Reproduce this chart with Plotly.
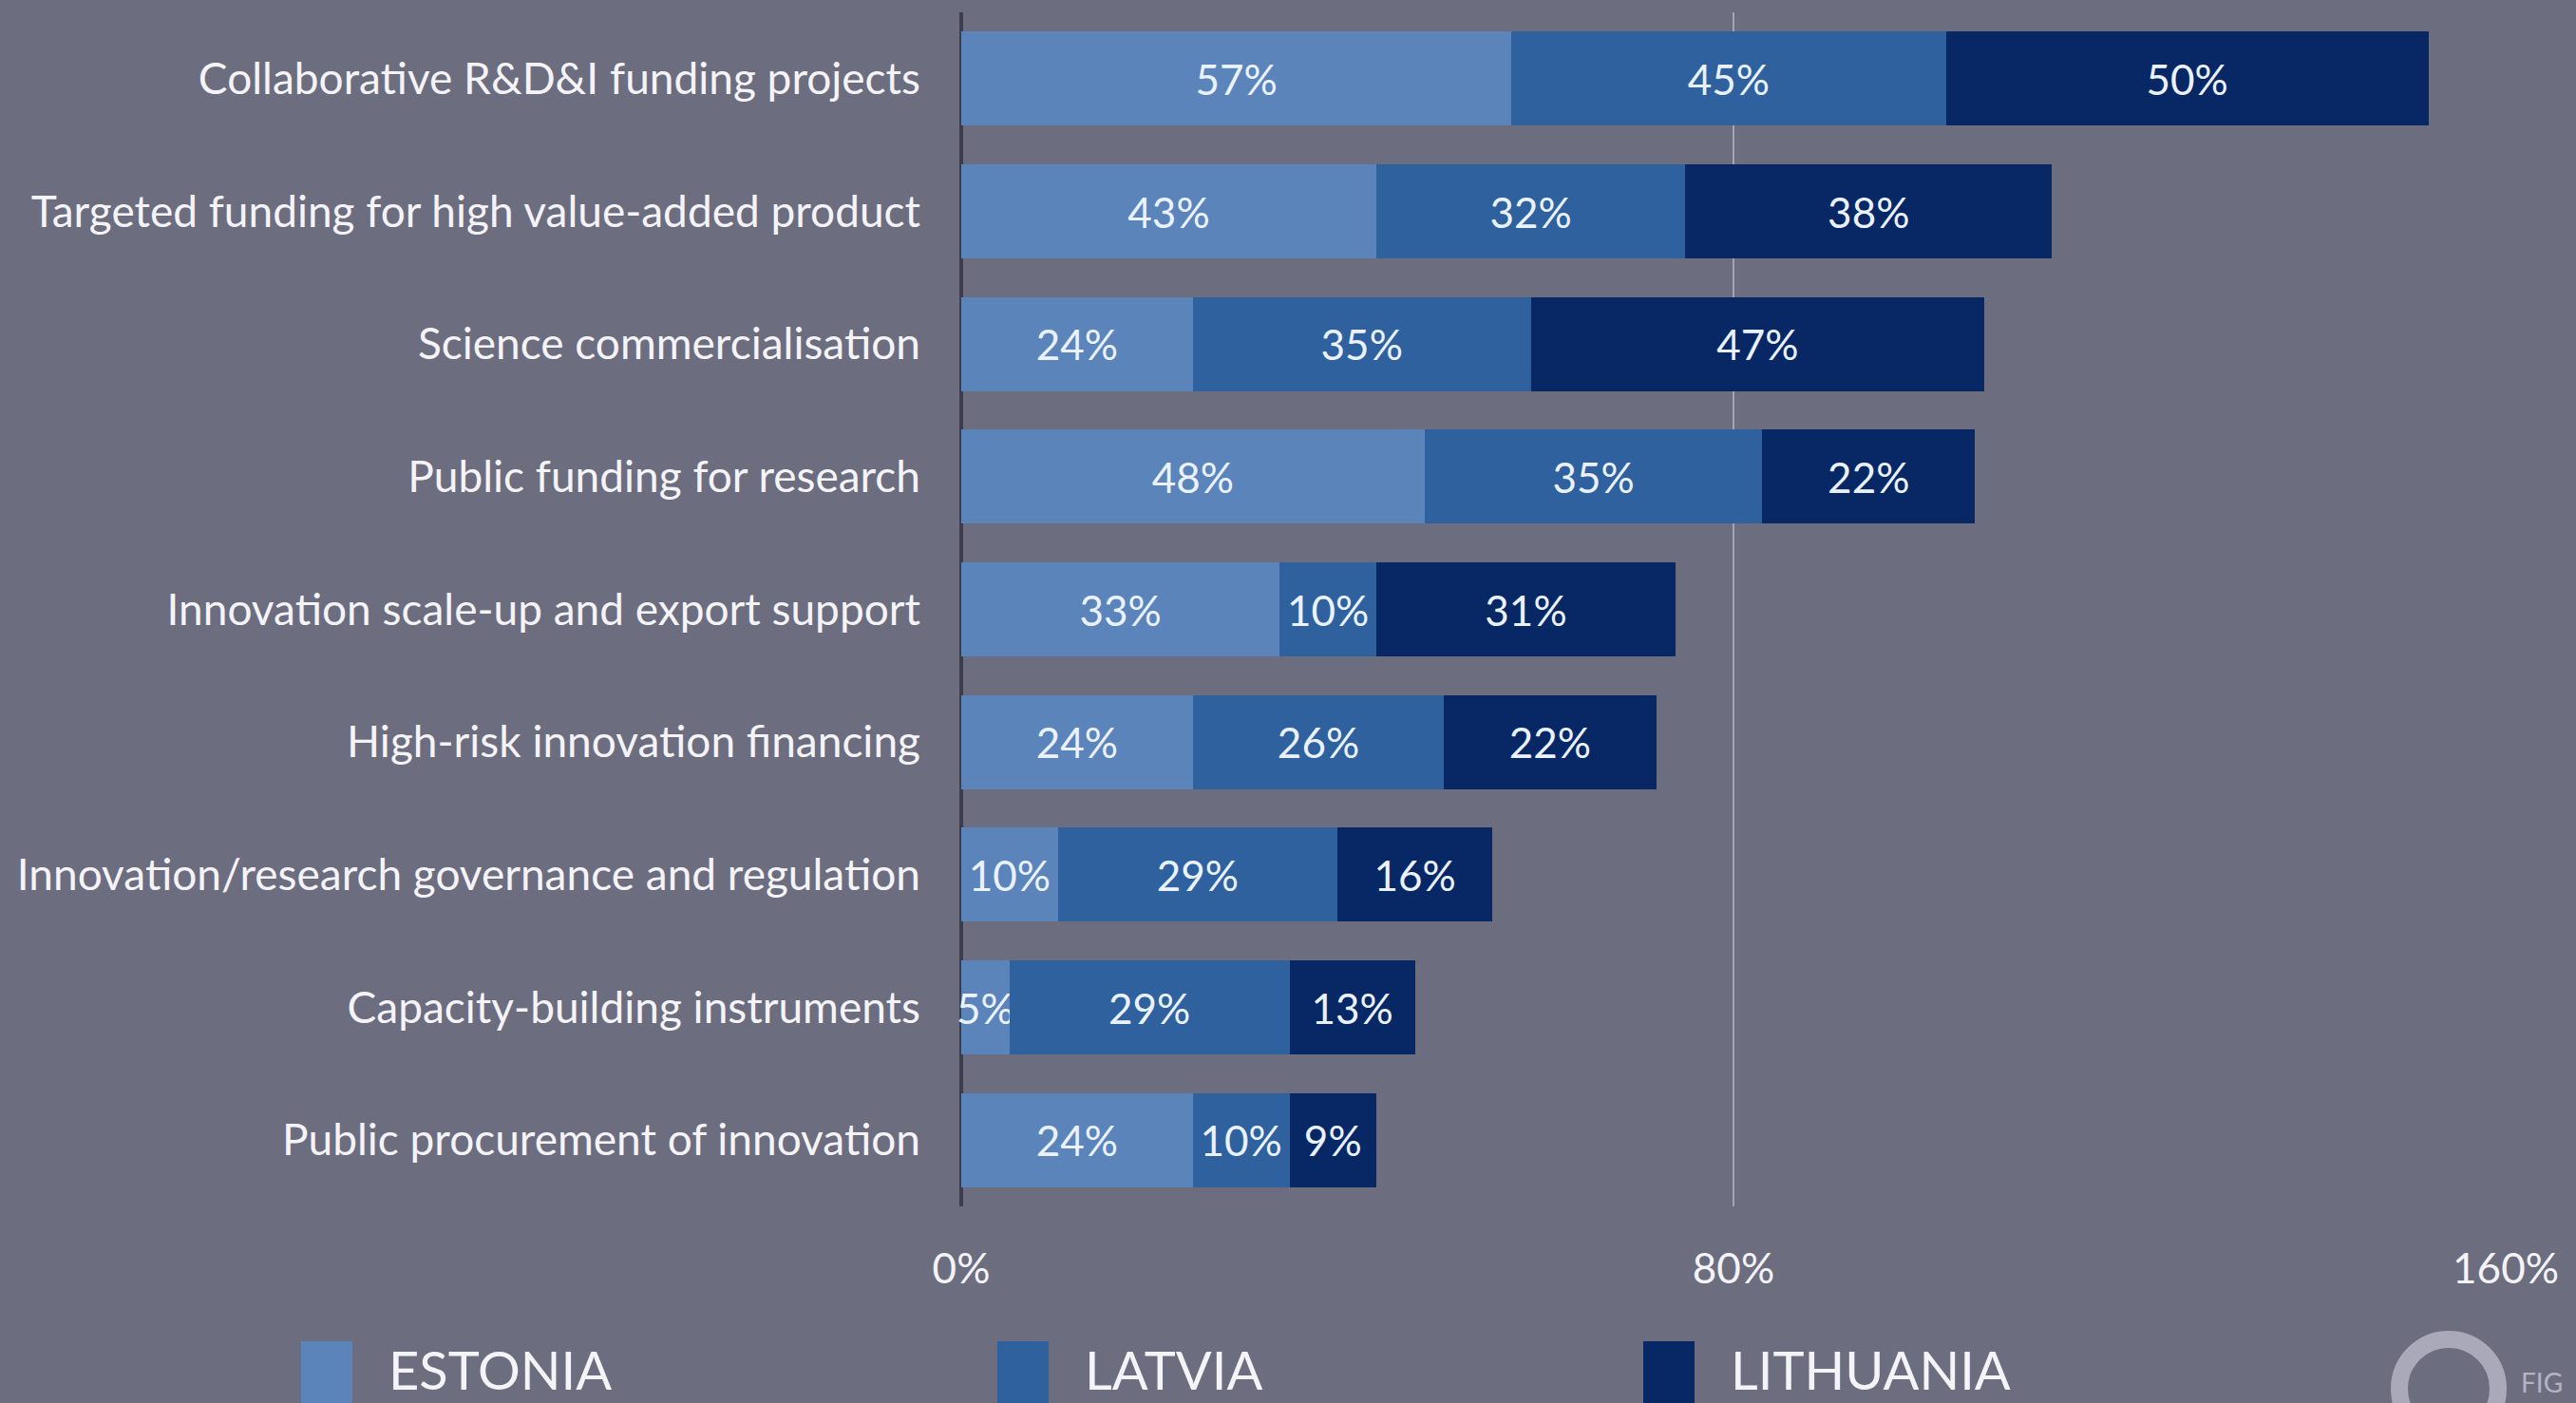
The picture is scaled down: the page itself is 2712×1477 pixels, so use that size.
import plotly.graph_objects as go

# Instruments (top to bottom) and the share reported by each country
categories = [
    "Collaborative R&D&I funding projects",
    "Targeted funding for high value-added product",
    "Science commercialisation",
    "Public funding for research",
    "Innovation scale-up and export support",
    "High-risk innovation financing",
    "Innovation/research governance and regulation",
    "Capacity-building instruments",
    "Public procurement of innovation",
]
estonia = [57, 43, 24, 48, 33, 24, 10, 5, 24]
latvia = [45, 32, 35, 35, 10, 26, 29, 29, 10]
lithuania = [50, 38, 47, 22, 31, 22, 16, 13, 9]

series_names = ["ESTONIA", "LATVIA", "LITHUANIA"]
series_values = [estonia, latvia, lithuania]
series_colors = ["#5b84ba", "#2e619e", "#082865"]

x_ticks = [0, 80, 160]
x_tick_text = ["0%", "80%", "160%"]

W, H = 2712, 1477
M_L, M_R, M_T, M_B = 1012, 74, 13, 207
BG = "#6d6d80"
FONT = "Lato"
TEXT = "#f4f4f8"
BAR_TEXT_SIZE = 44

fig = go.Figure()
for name, vals, col in zip(series_names, series_values, series_colors):
    fig.add_trace(go.Bar(
        y=categories, x=vals, name=name, orientation="h",
        marker=dict(color=col, line=dict(width=0)),
        text=[f"{v}%" for v in vals], textposition="inside",
        insidetextanchor="middle", textangle=0, constraintext="none",
        textfont=dict(family=FONT, size=BAR_TEXT_SIZE, color="#eaf1ff"),
        showlegend=False, cliponaxis=False,
    ))

fig.update_layout(
    width=W, height=H, barmode="stack", bargap=0.29,
    paper_bgcolor=BG, plot_bgcolor=BG,
    margin=dict(l=M_L, r=M_R, t=M_T, b=M_B, pad=0),
    uniformtext=dict(mode="show", minsize=BAR_TEXT_SIZE),
    font=dict(family=FONT, color=TEXT),
)
fig.update_yaxes(
    categoryorder="array", categoryarray=categories, autorange="reversed",
    showgrid=False, zeroline=False, showline=False,
    tickfont=dict(family=FONT, size=46, color=TEXT),
    ticklabelstandoff=42,
)
fig.update_xaxes(
    range=[0, 160], tickvals=x_ticks, ticktext=x_tick_text,
    showgrid=True, gridcolor="#a4a4b6", gridwidth=2,
    zeroline=True, zerolinecolor="#3c3c4c", zerolinewidth=4,
    showline=False, tickfont=dict(family=FONT, size=44, color=TEXT),
    ticklabelstandoff=36,
)

# Legend drawn as large colour blocks with labels along the bottom
plot_w = W - M_L - M_R
plot_h = H - M_T - M_B


def px_x(p):
    return (p - M_L) / plot_w


def px_y(p):
    return (H - M_B - p) / plot_h


legend_x = [317, 1050, 1730]
for name, col, x0 in zip(series_names, series_colors, legend_x):
    fig.add_shape(type="rect", xref="paper", yref="paper",
                  x0=px_x(x0), x1=px_x(x0 + 54), y0=px_y(1412), y1=px_y(1500),
                  fillcolor=col, line=dict(width=0), layer="above")
    fig.add_annotation(xref="paper", yref="paper", x=px_x(x0 + 90), y=px_y(1477),
                       text=name, showarrow=False, xanchor="left", yanchor="bottom",
                       font=dict(family=FONT, size=56, color=TEXT))

# Faint logo mark in the lower right corner
fig.add_shape(type="circle", xref="paper", yref="paper",
              x0=px_x(2526), x1=px_x(2630), y0=px_y(1514), y1=px_y(1410),
              line=dict(color="#a9a9b9", width=18), fillcolor="rgba(0,0,0,0)")
fig.add_annotation(xref="paper", yref="paper", x=px_x(2652), y=px_y(1474),
                   text="FIG", showarrow=False, xanchor="left", yanchor="bottom",
                   font=dict(family=FONT, size=28, color="#b4b4c4"))

fig.write_html("out.html")
